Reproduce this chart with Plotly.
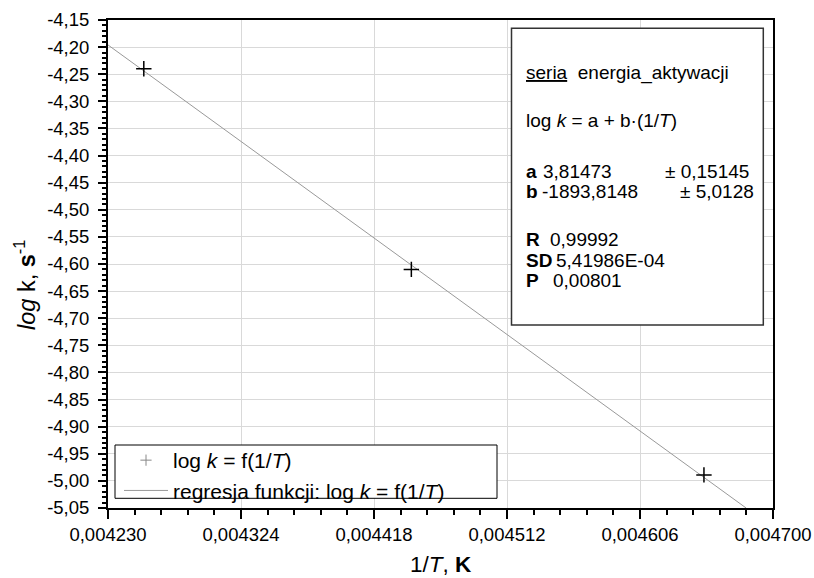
import plotly.graph_objects as go

# ---- data ----
inv_T = [0.0042553, 0.0044444, 0.0046512]      # 1/T, K^-1
log_k = [-4.240, -4.610, -4.989]               # log k
fit_x = [0.004230, 0.004681]                   # regression line ends
fit_y = [-4.196, -5.050]

x_tickvals = [0.004230, 0.004324, 0.004418, 0.004512, 0.004606, 0.004700]
x_ticktext = ["0,004230", "0,004324", "0,004418", "0,004512", "0,004606", "0,004700"]
y_tickvals = [-4.15 - 0.05 * i for i in range(19)]
y_ticktext = ["-4,15", "-4,20", "-4,25", "-4,30", "-4,35", "-4,40", "-4,45", "-4,50",
              "-4,55", "-4,60", "-4,65", "-4,70", "-4,75", "-4,80", "-4,85", "-4,90",
              "-4,95", "-5,00", "-5,05"]

fit_a = ("3,81473", "± 0,15145")
fit_b = ("-1893,8148", "± 5,0128")
fit_R = "0,99992"
fit_SD = "5,41986E-04"
fit_P = "0,00801"

FONT = "Liberation Sans, Arial, sans-serif"
W, H = 814, 578
ML, MR, MT, MB = 108, 41, 20, 70
PW, PH = W - ML - MR, H - MT - MB


def px(xp):
    return (xp - ML) / PW


def py(yp):
    return (H - MB - yp) / PH


fig = go.Figure()

# legend-only marker entry (grey, small)
fig.add_trace(go.Scatter(
    x=[None], y=[None], mode="markers",
    name="log <i>k</i> = f(1/<i>T</i>)",
    marker=dict(symbol="cross-thin-open", size=8, color="#888888",
                line=dict(width=1, color="#888888")),
))
fig.add_trace(go.Scatter(
    x=fit_x, y=fit_y, mode="lines",
    name="regresja funkcji: log <i>k</i> = f(1/<i>T</i>)",
    line=dict(color="#999999", width=1),
))
fig.add_trace(go.Scatter(
    x=inv_T, y=log_k, mode="markers", showlegend=False,
    marker=dict(symbol="cross-thin-open", size=11, color="black",
                line=dict(width=1.5, color="black")),
))

fig.update_xaxes(
    range=[0.004230, 0.004700],
    tickmode="array", tickvals=x_tickvals, ticktext=x_ticktext,
    ticks="outside", ticklen=9, tickwidth=1.5, tickcolor="black",
    minor=dict(ticks="outside", dtick=0.0000188, tick0=0.004230, ticklen=5,
               tickwidth=1.5, tickcolor="black", showgrid=False),
    showline=True, linecolor="black", linewidth=2, mirror=True,
    showgrid=True, gridcolor="#d9d9d9", gridwidth=1,
    zeroline=False, automargin=False,
    tickfont=dict(family=FONT, size=18.5, color="black"),
)
fig.update_yaxes(
    range=[-5.05, -4.15],
    tickmode="array", tickvals=y_tickvals, ticktext=y_ticktext,
    ticks="outside", ticklen=8, tickwidth=1.5, tickcolor="black",
    minor=dict(ticks="outside", dtick=0.01, tick0=-5.05, ticklen=4,
               tickwidth=1.5, tickcolor="black", showgrid=False),
    showline=True, linecolor="black", linewidth=2, mirror=True,
    showgrid=True, gridcolor="#d9d9d9", gridwidth=1,
    zeroline=False, ticklabelstandoff=5, automargin=False,
    tickfont=dict(family=FONT, size=18.5, color="black"),
)

# axis titles
TITLEF = dict(family=FONT, size=22.5, color="black")
fig.add_annotation(text="1/<i>T</i>, <b>K</b>", xref="paper", yref="paper",
                   x=px(441), y=py(578), xanchor="center", yanchor="bottom",
                   showarrow=False, font=TITLEF, borderpad=0)
fig.add_annotation(text="<i>log</i> k, <b>s</b><sup>-1</sup>", xref="paper", yref="paper",
                   x=px(25), y=py(285), xanchor="center", yanchor="middle",
                   textangle=-90, showarrow=False, font=dict(family=FONT, size=23.5, color="black"))

# legend frame
fig.add_shape(type="rect", xref="paper", yref="paper",
              x0=px(115), x1=px(497), y0=py(498.3), y1=py(445),
              line=dict(color="black", width=1), fillcolor="white", layer="above")

# statistics box
fig.add_shape(type="rect", xref="paper", yref="paper",
              x0=px(511.5), x1=px(763.3), y0=py(325), y1=py(28.3),
              line=dict(color="#333333", width=1.5), fillcolor="white", layer="above")

BOXF = dict(family=FONT, size=19, color="black")


def note(text, xp, yp):
    fig.add_annotation(text=text, xref="paper", yref="paper", x=px(xp - 2), y=py(yp),
                       xanchor="left", yanchor="middle", showarrow=False, font=BOXF)


note("<u>seria</u>  energia_aktywacji", 526, 73)
note("log <i>k</i> = a + b·(1/<i>T</i>)", 526, 120)
note("<b>a</b>", 526, 171.7)
note(fit_a[0], 543, 171.7)
note(fit_a[1], 665, 171.7)
note("<b>b</b>", 526, 191.7)
note(fit_b[0], 541.7, 191.7)
note(fit_b[1], 680, 191.7)
note("<b>R</b>", 526, 240)
note(fit_R, 550, 240)
note("<b>SD</b>", 526, 260)
note(fit_SD, 556, 260)
note("<b>P</b>", 526, 280)
note(fit_P, 553, 280)

fig.update_layout(
    width=W, height=H,
    margin=dict(l=ML, r=MR, t=MT, b=MB),
    paper_bgcolor="white", plot_bgcolor="white",
    separators=", ",
    font=dict(family=FONT, color="black"),
    legend=dict(x=px(119), y=py(440), xanchor="left", yanchor="top",
                bgcolor="rgba(0,0,0,0)", borderwidth=0, itemwidth=44,
                font=dict(family=FONT, size=21, color="black"),
                tracegroupgap=0),
)

fig.write_html("out.html", config={"displayModeBar": False},
               post_script="document.body.style.margin='0';")
